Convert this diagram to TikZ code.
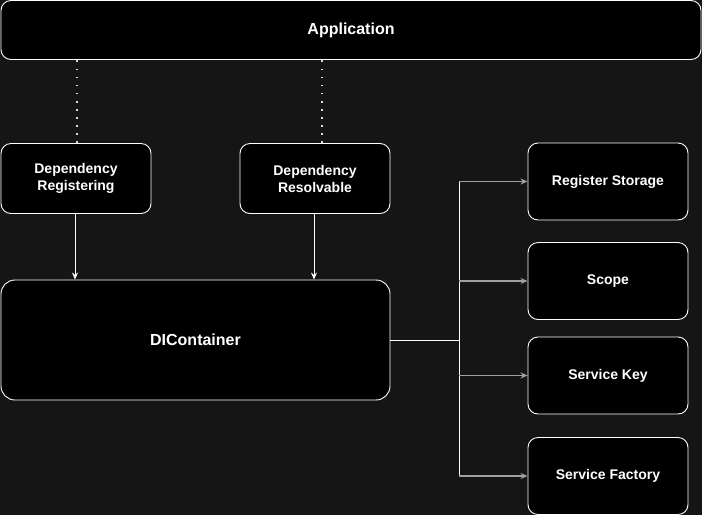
\documentclass[tikz,border=0pt]{standalone}
\usepackage{fontspec}
\setmainfont{Liberation Sans}
\usetikzlibrary{arrows.meta}

\definecolor{fond}{HTML}{151515}
\definecolor{fleche}{HTML}{A0A0A0}

\begin{document}
\begin{tikzpicture}[x=1pt, y=-1pt,
    boite/.style={draw=white, fill=black, rounded corners=10pt, line width=0.9pt,
                  text=white, font=\fontsize{14}{17}\selectfont\bfseries, align=center,
                  inner sep=0pt},
    pointille/.style={white!85!black, line width=1.6pt, dash pattern=on 1.6pt off 6.5pt},
    lien/.style={white, line width=0.9pt, -{Stealth[length=7pt,width=6pt]}},
    branche/.style={fleche, line width=1.4pt, -{Stealth[length=7pt,width=6pt]}}]

    % Fond sombre
    \useasboundingbox (0,0) rectangle (702,515);
    \fill[fond] (0,0) rectangle (702,515);

    % Application (haut)
    \node[boite, minimum width=700pt, minimum height=59pt,
          font=\fontsize{16}{18}\selectfont\bfseries] (app) at (351,30) {Application};

    % Modules intermediaires
    \node[boite, minimum width=150pt, minimum height=70pt] (depreg) at (76,178.5) {Dependency\\Registering};
    \node[boite, minimum width=150pt, minimum height=70pt] (depres) at (315,178.5) {Dependency\\Resolvable};

    % Conteneur principal
    \node[boite, rounded corners=14pt, minimum width=389pt, minimum height=120pt,
          font=\fontsize{16}{18}\selectfont\bfseries] (cont) at (195.5,340) {DIContainer};

    % Composants a droite
    \node[boite, minimum width=160pt, minimum height=77pt] (regstore) at (608,181.5) {Register Storage};
    \node[boite, minimum width=160pt, minimum height=77pt] (scope) at (608,281) {Scope};
    \node[boite, minimum width=160pt, minimum height=77pt] (servkey) at (608,375.5) {Service Key};
    \node[boite, minimum width=160pt, minimum height=77pt] (servfac) at (608,476) {Service Factory};

    % Liens pointilles depuis l'application
    \draw[pointille] ([xshift=1pt]depreg.north) -- ([xshift=1pt]depreg.north |- app.south);
    \draw[pointille] ([xshift=7pt]depres.north) -- ([xshift=7pt]depres.north |- app.south);

    % Fleches vers le conteneur
    \draw[lien] ([xshift=-1pt]depreg.south) -- ([xshift=-1pt]depreg.south |- cont.north);
    \draw[lien] ([xshift=-1pt]depres.south) -- ([xshift=-1pt]depres.south |- cont.north);

    % Tronc et branches vers les composants
    \draw[white, line width=0.9pt] (cont.east) -- ++(69,0) coordinate (tronc);
    \draw[white, line width=0.9pt] (tronc |- regstore) -- (tronc |- servfac);
    \foreach \cible in {regstore, scope, servkey, servfac}
        \draw[branche] (tronc |- \cible) -- (\cible.west);

\end{tikzpicture}
\end{document}
